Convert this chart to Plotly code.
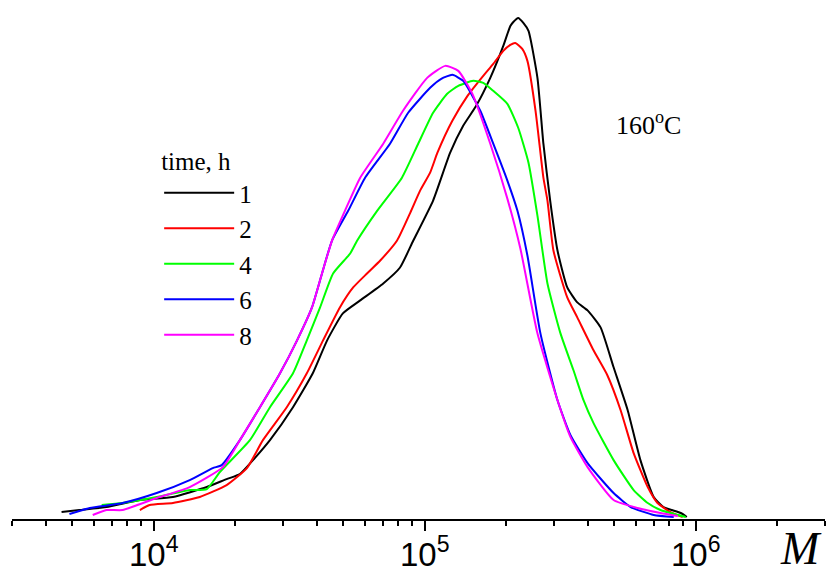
import math
import plotly.graph_objects as go

# ---- data (log10 M, signal in arbitrary units) ----
series_names = ["1", "2", "4", "6", "8"]
series_colors = ["#000000", "#ff0000", "#00ff00", "#0000ff", "#ff00ff"]

logM_1 = [3.660, 3.726, 3.826, 3.949, 4.071, 4.196, 4.269, 4.318, 4.373, 4.429,
          4.514, 4.587, 4.640, 4.698, 4.762, 4.847, 4.909, 4.958, 5.031, 5.094,
          5.142, 5.190, 5.242, 5.290, 5.316, 5.327, 5.345, 5.364, 5.383, 5.416,
          5.438, 5.463, 5.490, 5.526, 5.563, 5.601, 5.649, 5.697, 5.749, 5.796,
          5.845, 5.881, 5.945, 5.967]
w_1 = [6, 8, 11, 18, 21, 31, 39, 44, 60, 78,
       111, 145, 178, 205, 218, 235, 251, 278, 318, 366,
       393, 413, 441, 473, 493, 497, 501, 496, 488, 441,
       375, 318, 268, 231, 216, 208, 191, 151, 108, 58,
       21, 11, 5, 1]

logM_2 = [3.949, 3.985, 4.071, 4.170, 4.269, 4.344, 4.403, 4.491, 4.565, 4.625,
          4.687, 4.736, 4.787, 4.836, 4.898, 4.947, 4.983, 5.020, 5.047, 5.102,
          5.158, 5.216, 5.253, 5.290, 5.316, 5.334, 5.360, 5.379, 5.409, 5.438,
          5.453, 5.475, 5.526, 5.563, 5.623, 5.674, 5.723, 5.771, 5.823, 5.859,
          5.907, 5.952]
w_2 = [8, 13, 15, 21, 33, 50, 78, 111, 145, 178,
       211, 231, 245, 258, 278, 306, 328, 346, 366, 398,
       423, 443, 455, 468, 474, 476, 470, 458, 408, 341,
       318, 268, 221, 201, 168, 143, 108, 65, 31, 15,
       6, 1]

logM_4 = [3.808, 3.885, 4.011, 4.133, 4.196, 4.244, 4.355, 4.429, 4.514, 4.565,
          4.614, 4.662, 4.725, 4.751, 4.825, 4.916, 4.976, 5.031, 5.083, 5.124,
          5.179, 5.216, 5.253, 5.305, 5.345, 5.383, 5.416, 5.453, 5.501, 5.549,
          5.586, 5.623, 5.697, 5.771, 5.823, 5.870, 5.963]
w_4 = [13, 15, 21, 28, 29, 46, 78, 111, 145, 178,
       211, 245, 265, 278, 308, 341, 375, 406, 425, 433,
       438, 436, 428, 415, 391, 356, 303, 235, 185, 148,
       118, 95, 58, 28, 15, 8, 1]

logM_6 = [3.689, 3.764, 3.885, 4.011, 4.133, 4.218, 4.251, 4.318, 4.392, 4.466,
          4.529, 4.584, 4.621, 4.658, 4.718, 4.780, 4.872, 4.939, 5.020, 5.061,
          5.102, 5.142, 5.205, 5.253, 5.305, 5.342, 5.379, 5.427, 5.490, 5.538,
          5.601, 5.697, 5.760, 5.845, 5.919]
w_6 = [4, 10, 15, 25, 38, 50, 53, 78, 111, 145,
       178, 211, 245, 278, 308, 341, 375, 406, 431, 440,
       444, 438, 408, 375, 338, 308, 263, 185, 118, 83,
       55, 25, 11, 3, 1]

logM_8 = [3.775, 3.826, 3.885, 4.011, 4.133, 4.255, 4.318, 4.392, 4.466, 4.529,
          4.584, 4.621, 4.658, 4.706, 4.762, 4.847, 4.920, 5.009, 5.076, 5.124,
          5.176, 5.242, 5.305, 5.353, 5.416, 5.490, 5.538, 5.601, 5.697, 5.785,
          5.870, 5.934]
w_8 = [3, 8, 8, 20, 31, 51, 78, 111, 145, 178,
       211, 245, 278, 308, 341, 375, 408, 441, 453, 448,
       425, 375, 320, 270, 185, 118, 81, 51, 18, 10,
       5, 2]

tick_vals = [1e4, 1e5, 1e6]
tick_text = ["10<sup>4</sup>", "10<sup>5</sup>", "10<sup>6</sup>"]
minor_vals = [m * 10 ** e for e in (3, 4, 5, 6) for m in range(2, 10)
              if 3000 <= m * 10 ** e <= 3e6]

legend_title = "time, h"
temp_label = "160<sup>o</sup>C"
x_label = "M"

all_logM = [logM_1, logM_2, logM_4, logM_6, logM_8]
all_w = [w_1, w_2, w_4, w_6, w_8]

fig = go.Figure()
n = len(series_names)
for i, (name, col, lg, w) in enumerate(zip(series_names, series_colors, all_logM, all_w)):
    # the last (top-most) series lives on the overlaid label axis, which shares
    # the exact same log scale as the main axis
    fig.add_trace(go.Scatter(
        x=[10 ** v for v in lg], y=w, mode="lines", name=name,
        xaxis="x2" if i == n - 1 else "x",
        line=dict(color=col, width=2, shape="spline", smoothing=0.5)))

serif = "Liberation Serif, Times New Roman, serif"
x_range = [math.log10(3000), math.log10(3e6)]
fig.update_layout(
    width=828, height=572,
    margin=dict(l=12, r=3, t=0, b=53, autoexpand=False),
    paper_bgcolor="white", plot_bgcolor="white",
    showlegend=True,
    legend=dict(
        title=dict(text=legend_title, font=dict(family=serif, size=25, color="black")),
        font=dict(family=serif, size=25, color="black"),
        x=0.181, y=0.735, xanchor="left", yanchor="top",
        itemwidth=70,
        bgcolor="rgba(0,0,0,0)", tracegroupgap=0),
    xaxis=dict(
        type="log", range=x_range, automargin=False,
        showline=True, linecolor="black", linewidth=2,
        ticks="outside", ticklen=10, tickwidth=2, tickcolor="black",
        tickvals=tick_vals, showticklabels=False,
        showgrid=False, zeroline=False,
        minor=dict(ticks="outside", ticklen=5, tickwidth=1.5, tickcolor="black",
                   tickvals=minor_vals, showgrid=False)),
    xaxis2=dict(
        type="log", range=x_range, overlaying="x", anchor="y", side="bottom",
        automargin=False, showline=False, ticks="", showgrid=False, zeroline=False,
        tickvals=tick_vals, ticktext=tick_text, ticklabelstandoff=13,
        tickfont=dict(family="Liberation Sans, Arial, sans-serif", size=33,
                      color="black")),
    yaxis=dict(visible=False, automargin=False, range=[-1, 519],
               showgrid=False, zeroline=False),
)

fig.add_annotation(text=temp_label, xref="paper", yref="paper",
                   x=(648 - 12) / 813, y=(519 - 124) / 519,
                   xanchor="center", yanchor="middle",
                   showarrow=False, font=dict(family=serif, size=26, color="black"))
fig.add_annotation(text="<i>" + x_label + "</i>", xref="paper", yref="paper",
                   x=(801 - 12) / 813, y=(519 - 548) / 519,
                   xanchor="center", yanchor="middle", height=40,
                   showarrow=False, font=dict(family=serif, size=46, color="black"))

fig.write_html("out.html", config={"displayModeBar": False},
               post_script="document.body.style.margin='0px';")
